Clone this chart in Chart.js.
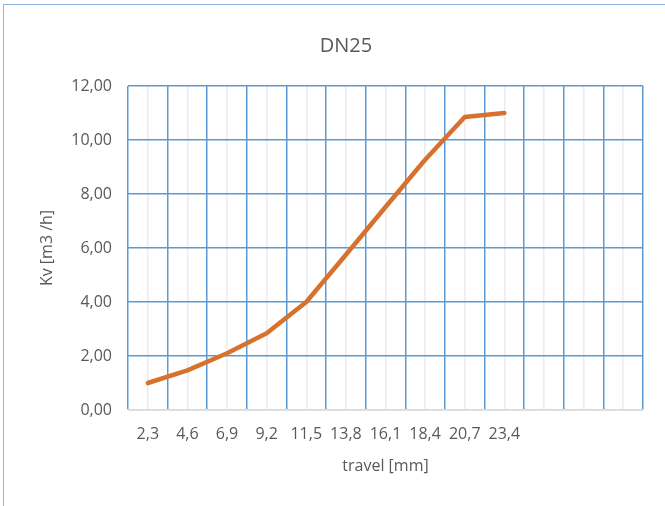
<!DOCTYPE html>
<html>
<head>
<meta charset="utf-8">
<script src="https://cdn.jsdelivr.net/npm/chart.js@4"></script>
<style>
  html, body { margin: 0; padding: 0; background: #fff; overflow: hidden; }
  #marco {
    position: absolute; left: 3px; top: 4px; width: 800px; height: 600px;
    border: 1.5px solid #8db3e2;
  }
  #grafico { position: absolute; left: 0; top: 0; }
</style>
</head>
<body>
<div id="marco"></div>
<canvas id="grafico" width="665" height="506"></canvas>
<script>
// DATOS DEL GRAFICO
const xLabels = ['2,3', '4,6', '6,9', '9,2', '11,5', '13,8', '16,1', '18,4', '20,7', '23,4', '', '', ''];
const kvValues = [1.00, 1.47, 2.10, 2.84, 4.00, 5.75, 7.52, 9.27, 10.85, 11.00];
const yTicks = [0, 2, 4, 6, 8, 10, 12];

const chartTitle = 'DN25';
const xTitle = 'travel [mm]';
const yTitle = 'Kv [m3 /h]';

// colores estilo Excel
const azul = '#5b9bd5';
const gris = '#d9d9d9';
const grisClaro = '#ececec';
const naranja = '#d6722e';
const texto = '#595959';
const fuente = 'Open Sans';

const config = {
    type: 'line',
    data: {
        labels: xLabels,
        datasets: [{
            label: yTitle,
            data: kvValues,
            borderColor: naranja,
            borderWidth: 4.5,
            borderCapStyle: 'round',
            borderJoinStyle: 'round',
            pointRadius: 0,
            tension: 0
        }]
    },
    options: {
        responsive: false,
        animation: false,
        layout: { padding: { left: 49, right: 22, top: 0, bottom: 0 } },
        plugins: {
            legend: { display: false },
            tooltip: { enabled: false },
            title: {
                display: true,
                text: chartTitle,
                color: texto,
                font: { family: fuente, size: 20, weight: 'normal' },
                padding: { top: 34, bottom: 28 }
            }
        },
        scales: {
            x: {
                type: 'category',
                offset: true,
                grid: { offset: true, color: azul, lineWidth: 1.5, drawTicks: false },
                border: { display: true, color: gris, width: 1.5 },
                ticks: {
                    color: texto, autoSkip: false, maxRotation: 0, padding: 14.4,
                    font: { family: fuente, size: 16 }
                },
                title: {
                    display: true, text: xTitle, color: texto,
                    font: { family: fuente, size: 16 },
                    padding: { top: 12.8, bottom: 30.4 }
                },
                afterFit: (scale) => { scale.height = 96; }
            },
            // lineas grises en el centro de cada categoria
            x2: {
                type: 'category',
                position: 'bottom',
                labels: xLabels,
                offset: true,
                grid: { offset: false, color: grisClaro, lineWidth: 1.5, drawTicks: false },
                border: { display: false },
                ticks: { display: false },
                afterFit: (scale) => { scale.height = 0; }
            },
            y: {
                min: 0,
                max: 12,
                afterBuildTicks: (scale) => { scale.ticks = yTicks.map(v => ({ value: v })); },
                grid: {
                    color: (ctx) => ctx.tick && ctx.tick.value === 0 ? gris : azul,
                    lineWidth: 1.5,
                    drawTicks: false
                },
                border: { display: false },
                ticks: {
                    color: texto, padding: 16,
                    font: { family: fuente, size: 16 },
                    callback: (v) => Number(v).toFixed(2).replace('.', ',')
                },
                title: {
                    display: true, text: yTitle, color: texto,
                    font: { family: fuente, size: 16 },
                    padding: { top: -11.6, bottom: 0 }
                },
                afterFit: (scale) => { scale.width = 79; }
            }
        }
    }
};

new Chart(document.getElementById('grafico'), config);
</script>
</body>
</html>
